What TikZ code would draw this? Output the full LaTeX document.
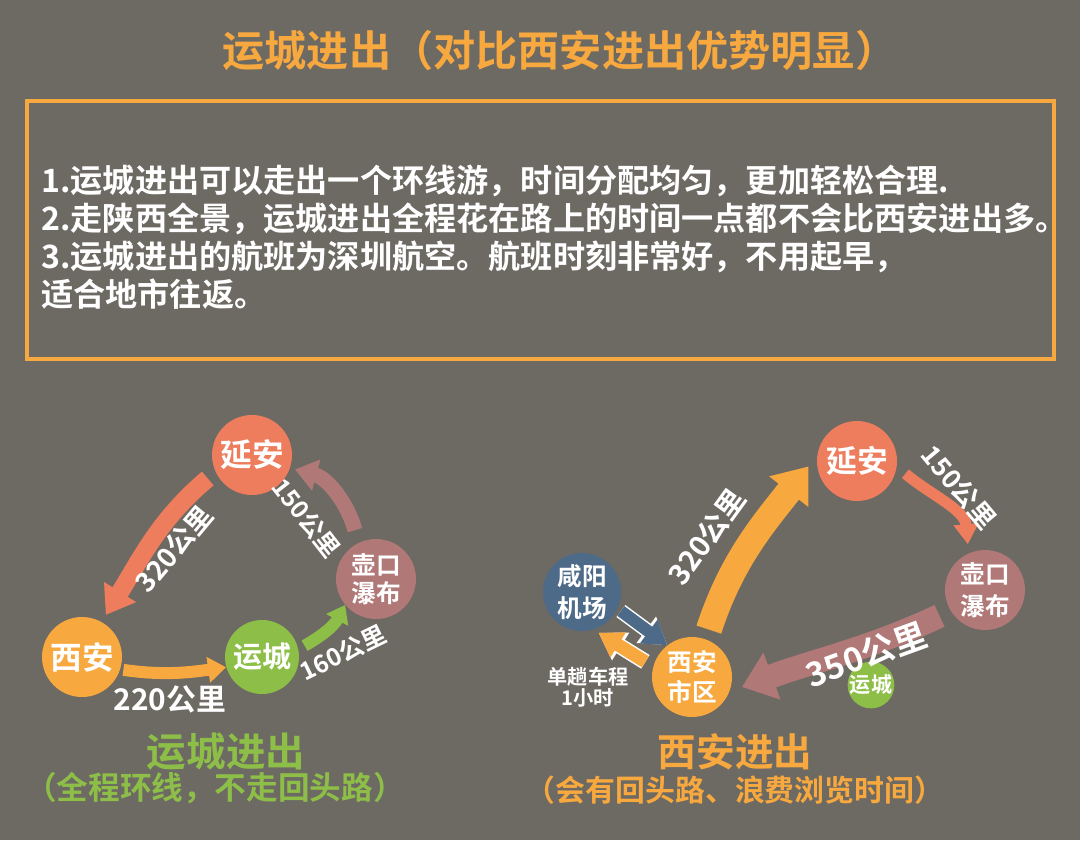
\documentclass[tikz,border=0pt]{standalone}
\usepackage{fontspec}
\setmainfont{Noto Sans CJK SC}[BoldFont={Noto Sans CJK SC Bold}]
\usetikzlibrary{arrows.meta}

\definecolor{bgGray}{RGB}{109,105,99}
\definecolor{tOrange}{RGB}{247,168,62}
\definecolor{tSalmon}{RGB}{238,125,94}
\definecolor{tGreen}{RGB}{141,190,72}
\definecolor{tMauve}{RGB}{176,120,118}
\definecolor{tBlue}{RGB}{77,107,137}

\newcommand{\cnfont}[2]{\bfseries\fontsize{#1}{#2}\selectfont}

\tikzset{
	city/.style={circle, fill=#1, minimum size=1.6cm, inner sep=0pt, text=white, align=center},
	km/.style={text=white, inner sep=0pt},
	road/.style n args={4}{draw=#1, line width=#2, -{Triangle[length=#3, width=#4]}},
	rim/.style n args={2}{preaction={draw=white, line width=#1, -{Triangle[length=#2, width=#2+0.1cm]}}}
}

\begin{document}
\begin{tikzpicture}[x=0.02cm, y=0.02cm]
		%%%%% START %%%%%
		\useasboundingbox (0,0) rectangle (1080,-840);
		\fill[bgGray] (0,0) rectangle (1080,-840);
		
		\node[text=tOrange, font=\cnfont{24}{24}] (title) at (560,-50) {运城进出（对比西安进出优势明显）};
		
		\draw[tOrange, line width=0.08cm] (27,-101) rectangle (1054,-359);
		\node[anchor=west, align=left, text=white, inner sep=0pt, font=\cnfont{18.3}{21.5}] (notes) at (41,-237)
			{1.运城进出可以走出一个环线游，时间分配均匀，更加轻松合理.\\
			 2.走陕西全景，运城进出全程花在路上的时间一点都不会比西安进出多。\\
			 3.运城进出的航班为深圳航空。航班时刻非常好，不用起早，\\
			 适合地市往返。};
		
		% left: round trip
		\node[city=tSalmon, font=\cnfont{18}{18}] (yanL) at (252,-455) {延安};
		\node[city=tOrange, font=\cnfont{18}{18}] (xianL) at (82,-657) {西安};
		\node[city=tGreen, minimum size=1.48cm, font=\cnfont{16.5}{16.5}] (ycL) at (262,-657) {运城};
		\node[city=tMauve, font=\cnfont{14}{16}] (hkL) at (376,-579) {壶口\\瀑布};
		
		\draw[road={tSalmon}{0.36cm}{0.54cm}{0.72cm}, shorten <=0.2cm, shorten >=0.16cm] (yanL.205) to[out=220, in=58] (xianL.61);
		\draw[road={tOrange}{0.24cm}{0.36cm}{0.5cm}, shorten <=0.06cm] (xianL.-18) to[out=-8, in=188] (ycL.196);
		\draw[road={tGreen}{0.24cm}{0.34cm}{0.48cm}, shorten <=0.14cm] (ycL.12) to[out=30, in=242] (hkL.220);
		\draw[road={tMauve}{0.3cm}{0.44cm}{0.62cm}, shorten <=0.26cm, shorten >=0.1cm] (hkL.116) to[out=105, in=-15] (yanL.-19);
		
		\node[km, font=\cnfont{15.5}{15.5}, rotate=50] (kmYX) at (174,-549) {320公里};
		\node[km, font=\cnfont{17}{17}] (kmXY) at (170,-699) {220公里};
		\node[km, font=\cnfont{14}{14}, rotate=26] (kmYH) at (343,-653) {160公里};
		\node[km, font=\cnfont{14}{14}, rotate=-52] (kmHY) at (306,-518) {150公里};
		
		\node[text=tGreen, font=\cnfont{22.5}{22.5}] (capL) at (226,-752) {运城进出};
		\node[text=tGreen, font=\cnfont{18}{18}] (subL) at (215,-788) {（全程环线，不走回头路）};
		
		% right: back and forth
		\node[city=tSalmon, font=\cnfont{17.5}{17.5}] (yanR) at (857,-461) {延安};
		\node[city=tMauve, font=\cnfont{14}{18}] (hkR) at (985,-590) {壶口\\瀑布};
		\node[city=tOrange, font=\cnfont{14}{17}] (xaR) at (692,-677) {西安\\市区};
		\node[city=tBlue, minimum size=1.56cm, font=\cnfont{14}{18}] (xyA) at (582,-592) {咸阳\\机场};
		\node[city=tGreen, minimum size=0.88cm, font=\cnfont{12}{12}] (ycR) at (871,-685) {运城};
		
		\draw[road={tOrange}{0.52cm}{0.64cm}{0.95cm}, shorten <=0.2cm, shorten >=0.28cm] (xaR.70) to[out=72, in=232] (yanR.172);
		\draw[road={tSalmon}{0.22cm}{0.4cm}{0.48cm}, shorten <=0.22cm, shorten >=0.18cm] (yanR.-8) to[out=-40, in=95] (hkR.114);
		\draw[road={tMauve}{0.48cm}{0.64cm}{0.96cm}, shorten <=0.24cm, shorten >=0.26cm] (hkR.211) to[out=205, in=20] (xaR.-21);
		\draw[rim={0.3cm}{0.52cm}, road={tBlue}{0.24cm}{0.46cm}{0.56cm}, shorten <=0.08cm] (xyA.-25) -- (xaR.128);
		\draw[rim={0.32cm}{0.52cm}, road={tOrange}{0.26cm}{0.46cm}{0.56cm}, shorten <=0.18cm, shorten >=0.12cm] (xaR.165) -- (xyA.-73);
		
		\node[km, font=\cnfont{16.5}{16.5}, rotate=54] (kmXaY) at (707,-537) {320公里};
		\node[km, font=\cnfont{15}{15}, rotate=-50] (kmYaH) at (959,-487) {150公里};
		\node[km, font=\cnfont{19}{19}, rotate=20] (kmHX) at (866,-655) {350公里};
		\node[km, align=center, font=\cnfont{11.5}{9}] (ride) at (588,-687) {单趟车程\\1小时};
		
		\node[text=tOrange, font=\cnfont{22}{22}] (capR) at (735,-752) {西安进出};
		\node[text=tOrange, font=\cnfont{17}{17}] (subR) at (735,-790) {（会有回头路、浪费浏览时间）};
		%%%%% END %%%%%
\end{tikzpicture}
\end{document}
